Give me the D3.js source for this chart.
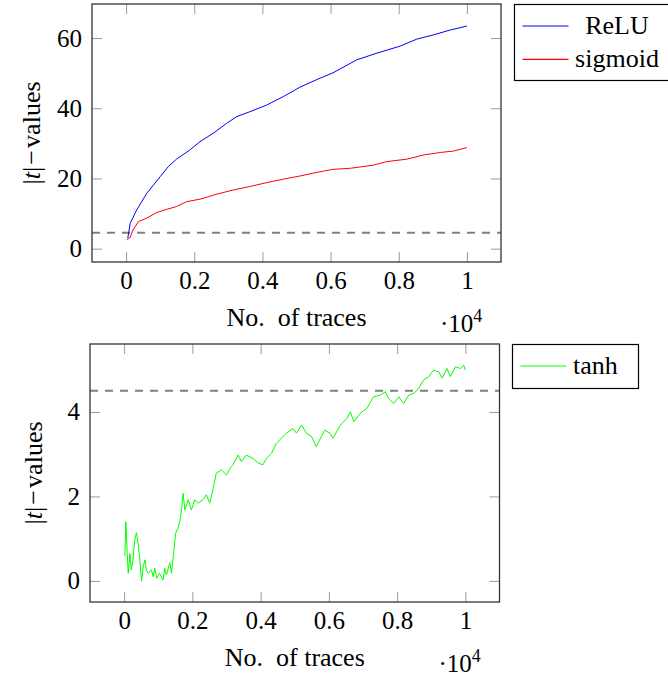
<!DOCTYPE html>
<html>
<head>
<meta charset="utf-8">
<script src="https://cdn.jsdelivr.net/npm/d3@7"></script>
<style>
  body { margin: 0; background: #fff; }
  text { font-family: "Liberation Serif", "Times New Roman", serif; fill: #000; }
</style>
</head>
<body>
<script>
// x values are in units of 10^4 traces
var xTicks = [0, 0.2, 0.4, 0.6, 0.8, 1];
var yTicksTop = [0, 20, 40, 60];
var yTicksBottom = [0, 2, 4];
var threshold = 4.5;

var reluX = [0.005, 0.012, 0.031, 0.061, 0.1, 0.124, 0.148, 0.187, 0.217, 0.256, 0.295, 0.324, 0.363, 0.412, 0.461, 0.51, 0.558, 0.607, 0.677, 0.736, 0.804, 0.853, 0.902, 0.951, 1.0];
var reluY = [3.0, 7.2, 11, 15.8, 20.5, 23.4, 25.5, 28.1, 30.5, 32.9, 35.7, 37.6, 39, 40.9, 43.3, 46, 48.1, 50.1, 53.8, 55.7, 57.7, 59.7, 60.9, 62.3, 63.4];

var sigX = [0.002, 0.012, 0.02, 0.036, 0.061, 0.09, 0.119, 0.148, 0.178, 0.217, 0.265, 0.314, 0.363, 0.412, 0.461, 0.51, 0.558, 0.607, 0.658, 0.726, 0.765, 0.824, 0.873, 0.922, 0.961, 1.0];
var sigY = [2.5, 3.2, 5.3, 7.7, 8.7, 10.3, 11.2, 12, 13.4, 14.1, 15.5, 16.7, 17.7, 18.8, 19.8, 20.7, 21.7, 22.6, 22.9, 23.8, 24.8, 25.5, 26.7, 27.4, 27.8, 28.8];

var tanhX = [0.002, 0.005, 0.009, 0.012, 0.017, 0.021, 0.026, 0.031, 0.036, 0.041, 0.046, 0.051, 0.056, 0.061, 0.065, 0.07, 0.08, 0.085, 0.09, 0.095, 0.104, 0.114, 0.119, 0.124, 0.134, 0.139, 0.144, 0.151, 0.158, 0.163, 0.168, 0.173, 0.178, 0.188, 0.197, 0.207, 0.217, 0.231, 0.241, 0.251, 0.261, 0.27, 0.285, 0.3, 0.31, 0.319, 0.334, 0.344, 0.358, 0.378, 0.393, 0.407, 0.417, 0.432, 0.446, 0.461, 0.476, 0.495, 0.505, 0.52, 0.534, 0.549, 0.563, 0.578, 0.588, 0.603, 0.612, 0.634, 0.653, 0.663, 0.673, 0.692, 0.712, 0.731, 0.751, 0.766, 0.775, 0.79, 0.805, 0.819, 0.834, 0.849, 0.863, 0.878, 0.893, 0.907, 0.922, 0.932, 0.946, 0.956, 0.971, 0.985, 0.995, 1.0];
var tanhY = [0.58, 1.40, 0.65, 0.18, 0.65, 0.26, 0.5, 0.97, 1.14, 0.89, 0.5, 0.0, 0.34, 0.5, 0.26, 0.18, 0.26, 0.1, 0.3, 0.06, 0.18, 0.02, 0.3, 0.14, 0.43, 0.18, 0.58, 1.13, 1.25, 1.40, 1.68, 2.07, 1.68, 1.92, 1.68, 1.92, 1.84, 1.92, 2.04, 1.84, 2.19, 2.55, 2.63, 2.51, 2.67, 2.75, 2.98, 2.82, 2.98, 2.9, 2.79, 2.75, 2.9, 3.02, 3.26, 3.38, 3.5, 3.61, 3.5, 3.69, 3.5, 3.42, 3.18, 3.42, 3.57, 3.5, 3.38, 3.69, 3.85, 4.0, 3.77, 3.97, 4.09, 4.36, 4.4, 4.48, 4.32, 4.2, 4.36, 4.2, 4.4, 4.44, 4.56, 4.76, 4.84, 4.99, 4.95, 4.8, 5.03, 4.84, 5.07, 5.03, 5.11, 4.99];

var svg = d3.select("body").append("svg")
    .attr("width", 668)
    .attr("height", 677);

function fmtX(d) {
    if (d === 0) return "0";
    if (d === 1) return "1";
    return d.toFixed(1);
}

function drawPanel(p) {
    var x = d3.scaleLinear().domain([-0.1, 1.1]).range([p.left, p.right]);
    var y = d3.scaleLinear().domain(p.yDomain).range([p.bottom, p.top]);

    var g = svg.append("g");

    // ticks on all four sides, pointing inward
    var gb = g.append("g").attr("transform", "translate(0," + p.bottom + ")")
        .call(d3.axisBottom(x).tickValues(xTicks).tickSize(-10).tickFormat(fmtX));
    var gt = g.append("g").attr("transform", "translate(0," + p.top + ")")
        .call(d3.axisTop(x).tickValues(xTicks).tickSize(-10).tickFormat(""));
    var gl = g.append("g").attr("transform", "translate(" + p.left + ",0)")
        .call(d3.axisLeft(y).tickValues(p.yTicks).tickSize(-10).tickFormat(d3.format("d")));
    var gr = g.append("g").attr("transform", "translate(" + p.right + ",0)")
        .call(d3.axisRight(y).tickValues(p.yTicks).tickSize(-10).tickFormat(""));

    [gb, gt, gl, gr].forEach(function(a) {
        a.attr("font-family", null).attr("font-size", null);
        a.select(".domain").remove();
        a.selectAll(".tick line").attr("stroke", "#9a9a9a").attr("stroke-width", 1);
    });
    gb.selectAll("text").attr("y", 27).attr("dy", null).style("font-size", "25px");
    gl.selectAll("text").attr("x", -10).attr("dy", "0.32em").style("font-size", "25px");

    // threshold
    g.append("line")
        .attr("x1", p.left).attr("x2", p.right)
        .attr("y1", y(threshold)).attr("y2", y(threshold))
        .attr("stroke", "#808080")
        .attr("stroke-width", 2)
        .attr("stroke-dasharray", "8,7");

    var line = d3.line()
        .x(function(d) { return x(d[0]); })
        .y(function(d) { return y(d[1]); });

    p.series.forEach(function(s) {
        g.append("path")
            .datum(d3.zip(s.xs, s.ys))
            .attr("fill", "none")
            .attr("stroke", s.color)
            .attr("stroke-width", 1)
            .attr("d", line);
    });

    // frame
    g.append("rect")
        .attr("x", p.left).attr("y", p.top)
        .attr("width", p.right - p.left).attr("height", p.bottom - p.top)
        .attr("fill", "none").attr("stroke", "#333").attr("stroke-width", 1.3);

    // axis labels
    g.append("text")
        .attr("x", (p.left + p.right) / 2)
        .attr("y", p.bottom + 63.5)
        .attr("text-anchor", "middle")
        .style("font-size", "26px")
        .text("No.\u00a0 of traces");

    var sc = g.append("text")
        .attr("x", p.right - 61)
        .attr("y", p.bottom + 70)
        .style("font-size", "25px");
    sc.append("tspan").text("\u00b710");
    sc.append("tspan").attr("dy", -10).style("font-size", "18px").text("4");

    var yl = g.append("text")
        .attr("transform", "translate(" + p.ylabelX + "," + ((p.top + p.bottom) / 2) + ") rotate(-90)")
        .attr("text-anchor", "middle")
        .style("font-size", "26px");
    yl.append("tspan").text("|");
    yl.append("tspan").style("font-style", "italic").text("t");
    yl.append("tspan").text("|\u200a\u2212\u200avalues");

    // legend
    var lg = p.legend;
    g.append("rect")
        .attr("x", lg.x).attr("y", lg.y)
        .attr("width", lg.w).attr("height", lg.h)
        .attr("fill", "#fff").attr("stroke", "#000").attr("stroke-width", 1.2);
    p.series.forEach(function(s, i) {
        var ly = lg.y + 21.5 + i * 33.3;
        g.append("line")
            .attr("x1", lg.x + 8).attr("x2", lg.x + 54)
            .attr("y1", ly).attr("y2", ly)
            .attr("stroke", s.color).attr("stroke-width", 1.2);
        g.append("text")
            .attr("x", lg.textX)
            .attr("y", ly + 7.5)
            .attr("text-anchor", lg.anchor)
            .style("font-size", "26px")
            .text(s.name);
    });
}

drawPanel({
    left: 92, right: 501, top: 4, bottom: 262,
    yDomain: [-3.8, 69.7], yTicks: yTicksTop, ylabelX: 40,
    series: [
        {name: "ReLU", color: "#0000ff", xs: reluX, ys: reluY},
        {name: "sigmoid", color: "#ff0000", xs: sigX, ys: sigY}
    ],
    legend: {x: 514.5, y: 4.5, w: 160, h: 76, textX: 617, anchor: "middle"}
});

drawPanel({
    left: 90, right: 499.5, top: 344, bottom: 602,
    yDomain: [-0.5, 5.61], yTicks: yTicksBottom, ylabelX: 42,
    series: [
        {name: "tanh", color: "#00ff00", xs: tanhX, ys: tanhY}
    ],
    legend: {x: 512.5, y: 344.5, w: 126, h: 44, textX: 573, anchor: "start"}
});
</script>
</body>
</html>
